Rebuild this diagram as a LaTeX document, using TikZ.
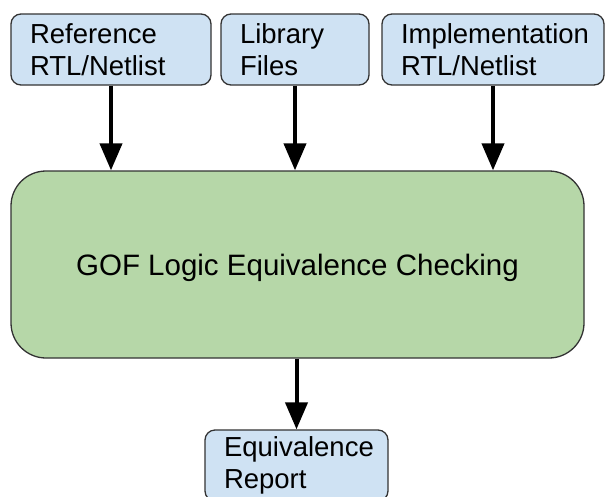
\documentclass[tikz,border=0pt]{standalone}
\usepackage{fontspec}
\setmainfont{Liberation Sans}
\definecolor{gofblue}{RGB}{207,226,243}
\definecolor{gofgreen}{RGB}{182,215,168}
\definecolor{gofedge}{RGB}{51,51,51}
\usetikzlibrary{arrows.meta,positioning}

\begin{document}
\begin{tikzpicture}[x=1pt, y=-1pt,
  inbox/.style={draw=gofedge, line width=1.3pt, fill=gofblue, rounded corners=10pt,
    minimum height=71pt, inner xsep=19pt, inner ysep=0pt, align=left,
    font=\fontsize{27.5}{32}\selectfont},
  lecbox/.style={draw=gofedge, line width=1.3pt, fill=gofgreen, rounded corners=35pt,
    minimum width=573pt, minimum height=187pt, text depth=0pt,
    font=\fontsize{29.5}{34}\selectfont},
  flow/.style={line width=4pt, -{Triangle[length=27pt, width=22pt]}}]
  \useasboundingbox (0,0) rectangle (610,496);
  \clip (0,0) rectangle (610,496);

  % Inputs
  \node[inbox, text width=162pt] (ref) at (111,49.5) {Reference\\RTL/Netlist};
  \node[inbox, text width=110pt] (lib) at (295,49.5) {Library\\Files};
  \node[inbox, text width=184pt] (impl) at (493,49.5) {Implementation\\RTL/Netlist};

  % Checker
  \node[lecbox] (lec) at (297.5,264.5) {GOF Logic Equivalence Checking};

  % Output
  \node[inbox, text width=145pt] (rpt) at (296.5,465.5) {Equivalence\\Report};

  % Arrows
  \draw[flow] (ref.south) -- (lec.north -| ref.south);
  \draw[flow] (lib.south) -- (lec.north -| lib.south);
  \draw[flow] (impl.south) -- (lec.north -| impl.south);
  \draw[flow] (lec.south -| rpt.north) -- (rpt.north);
\end{tikzpicture}
\end{document}
